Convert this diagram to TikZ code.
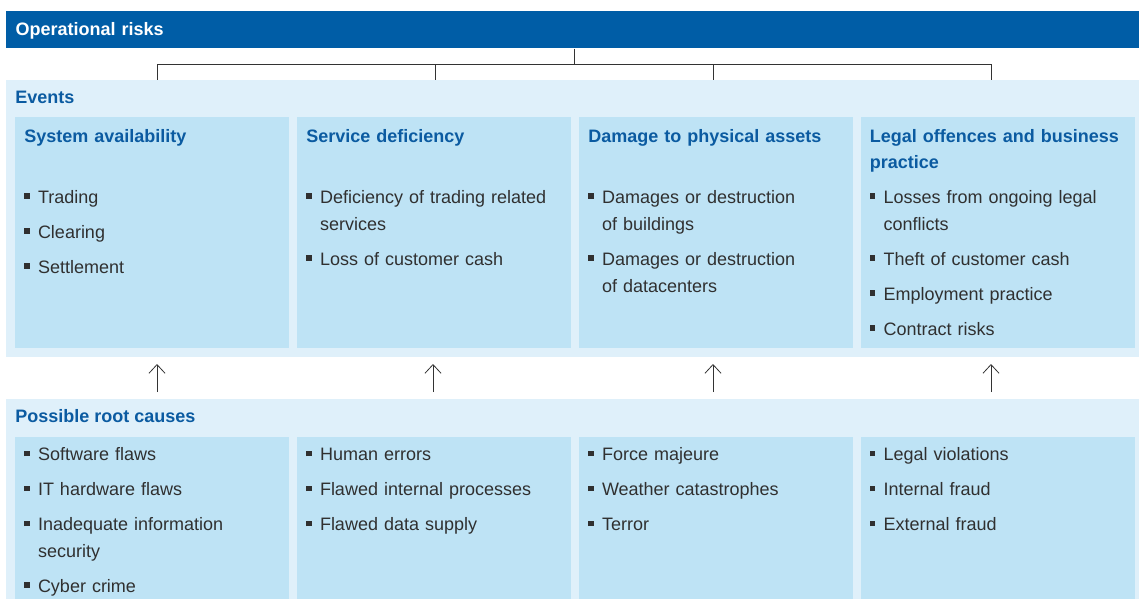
\documentclass[tikz,border=0pt]{standalone}
\usepackage{fontspec}
\setmainfont{Liberation Sans}
\usepackage{xcolor}
\definecolor{riskBar}{HTML}{005DA6}
\definecolor{riskPanel}{HTML}{DFF0FA}
\definecolor{riskBox}{HTML}{BEE3F5}
\definecolor{riskHead}{HTML}{0B5BA1}
\definecolor{riskText}{HTML}{303030}
\definecolor{riskLine}{HTML}{333333}
\usetikzlibrary{arrows.meta}

\newcommand{\riskfont}{\fontsize{13.5}{20}\selectfont}
\newcommand{\riskitem}[1]{\hangindent=10.3pt\hangafter=1\noindent\makebox[10.3pt][l]{\raisebox{3.6pt}{\rule{4.2pt}{4.2pt}}}\strut#1\par\vspace{6.25pt}}
\newcommand{\riskhead}[1]{\noindent\strut#1}

\begin{document}
\begin{tikzpicture}[x=0.75pt, y=-0.75pt,
  panelbg/.style={fill=riskPanel, anchor=north west, inner sep=0, minimum width=849.75pt},
  cellbox/.style={fill=riskBox, anchor=north west, inner sep=0, minimum width=205.3pt},
  paneltitle/.style={anchor=north west, inner sep=0, font=\riskfont\bfseries, text=riskHead, text height=14pt, text depth=6pt},
  cellhead/.style={anchor=north west, inner sep=0, text width=195pt, align=left, font=\riskfont\bfseries, text=riskHead},
  celllist/.style={anchor=north west, inner sep=0, text width=195pt, align=left, font=\riskfont, text=riskText},
  linkline/.style={draw=riskLine, line width=0.75pt},
  uparrow/.style={draw=riskLine, line width=0.6pt, -{Straight Barb[length=6.5pt, width=12pt]}}]
  \useasboundingbox (0,0) rectangle (1139,599);

  % top bar
  \node (opRisk) [fill=riskBar, anchor=north west, inner xsep=7pt, inner ysep=0, text width=835.75pt, minimum height=27.75pt, align=left, font=\riskfont\bfseries, text=white] at (6,11) {\riskhead{Operational risks}};

  % panels
  \node (evPanel) [panelbg, minimum height=207.75pt] at (6,80) {};
  \node (rcPanel) [panelbg, minimum height=150pt] at (6,399) {};
  \node (evTitle) [paneltitle] at (15,84.7) {Events};
  \node (rcTitle) [paneltitle] at (15,403.7) {Possible root causes};

  % event boxes
  \node (evA) [cellbox, minimum height=173.25pt] at (15,117) {};
  \node (evB) [cellbox, minimum height=173.25pt] at (297,117) {};
  \node (evC) [cellbox, minimum height=173.25pt] at (579,117) {};
  \node (evD) [cellbox, minimum height=173.25pt] at (860.5,117) {};
  \node (evHeadA) [cellhead] at (24,123.3) {\riskhead{System availability}};
  \node (evHeadB) [cellhead] at (306,123.3) {\riskhead{Service deficiency}};
  \node (evHeadC) [cellhead] at (588,123.3) {\riskhead{Damage to physical assets}};
  \node (evHeadD) [cellhead] at (869.5,123.3) {\riskhead{Legal offences and business\newline practice}};
  \node (evListA) [celllist] at (24,184.8) {\riskitem{Trading}\riskitem{Clearing}\riskitem{Settlement}};
  \node (evListB) [celllist] at (306,184.8) {\riskitem{Deficiency of trading related\newline services}\riskitem{Loss of customer cash}};
  \node (evListC) [celllist] at (588,184.8) {\riskitem{Damages or destruction\newline of buildings}\riskitem{Damages or destruction\newline of datacenters}};
  \node (evListD) [celllist] at (869.5,184.8) {\riskitem{Losses from ongoing legal\newline conflicts}\riskitem{Theft of customer cash}\riskitem{Employment practice}\riskitem{Contract risks}};

  % root cause boxes
  \node (rcA) [cellbox, minimum height=121.5pt] at (15,437) {};
  \node (rcB) [cellbox, minimum height=121.5pt] at (297,437) {};
  \node (rcC) [cellbox, minimum height=121.5pt] at (579,437) {};
  \node (rcD) [cellbox, minimum height=121.5pt] at (860.5,437) {};
  \node (rcListA) [celllist] at (24,442) {\riskitem{Software flaws}\riskitem{IT hardware flaws}\riskitem{Inadequate information\newline security}\riskitem{Cyber crime}};
  \node (rcListB) [celllist] at (306,442) {\riskitem{Human errors}\riskitem{Flawed internal processes}\riskitem{Flawed data supply}};
  \node (rcListC) [celllist] at (588,442) {\riskitem{Force majeure}\riskitem{Weather catastrophes}\riskitem{Terror}};
  \node (rcListD) [celllist] at (869.5,442) {\riskitem{Legal violations}\riskitem{Internal fraud}\riskitem{External fraud}};

  % tree from the bar down to the events
  \coordinate (hub) at (574,64.5);
  \coordinate (dropA) at (157,64.5);
  \coordinate (dropB) at (435,64.5);
  \coordinate (dropC) at (713,64.5);
  \coordinate (dropD) at (991,64.5);
  \draw[linkline] (opRisk.south -| hub) -- (hub);
  \draw[linkline] (dropA) -- (dropD);
  \draw[linkline] (dropA) -- (dropA |- evPanel.north);
  \draw[linkline] (dropB) -- (dropB |- evPanel.north);
  \draw[linkline] (dropC) -- (dropC |- evPanel.north);
  \draw[linkline] (dropD) -- (dropD |- evPanel.north);

  % causes lead to events
  \coordinate (causeA) at (157,392);
  \coordinate (causeB) at (433,392);
  \coordinate (causeC) at (713,392);
  \coordinate (causeD) at (991,392);
  \coordinate (eventA) at (157,364);
  \coordinate (eventB) at (433,364);
  \coordinate (eventC) at (713,364);
  \coordinate (eventD) at (991,364);
  \draw[uparrow] (causeA) -- (eventA);
  \draw[uparrow] (causeB) -- (eventB);
  \draw[uparrow] (causeC) -- (eventC);
  \draw[uparrow] (causeD) -- (eventD);
\end{tikzpicture}
\end{document}
